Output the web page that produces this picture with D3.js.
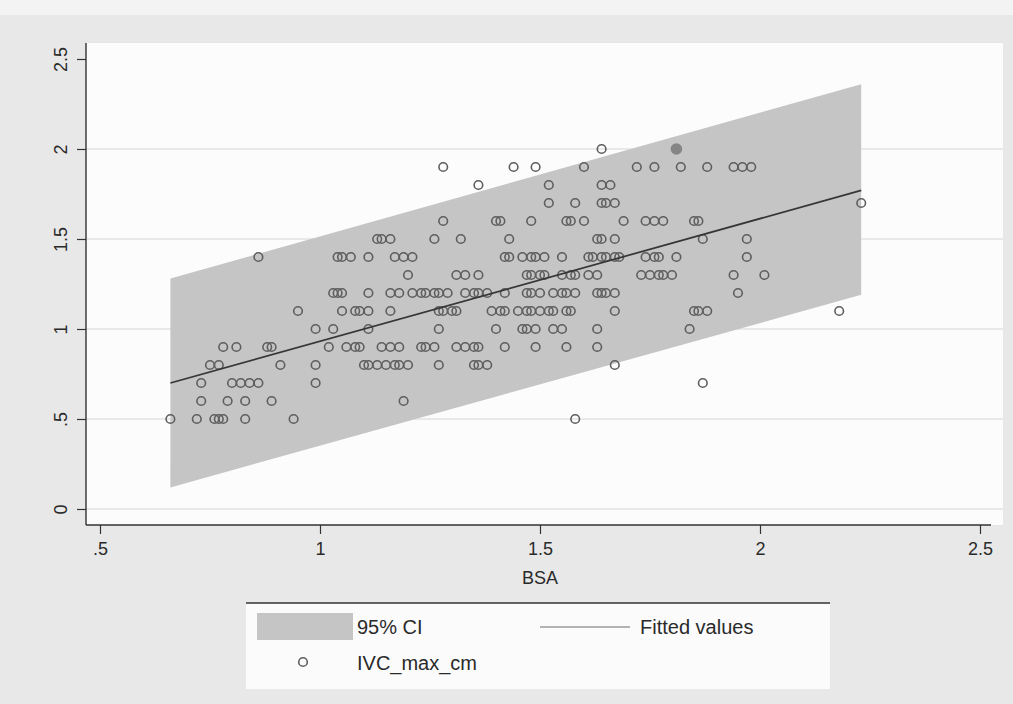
<!DOCTYPE html>
<html>
<head>
<meta charset="utf-8">
<script src="https://cdn.jsdelivr.net/npm/d3@7"></script>
<style>
	html, body { margin: 0; padding: 0; background: #e8e8e8; }
	svg { display: block; font-family: "Liberation Sans", Arial, sans-serif; }
</style>
</head>
<body>
<svg id="view" width="1013" height="704"></svg>
<script>
'use strict';

// data: IVC_max_cm levels and the BSA of each point on that level
const ivcLevels = [2.0, 1.9, 1.8, 1.7, 1.6, 1.5, 1.4, 1.3, 1.2, 1.1, 1.0, 0.9, 0.8, 0.7, 0.6, 0.5];
const bsaByLevel = [
	[1.64],
	[1.28, 1.44, 1.49, 1.60, 1.72, 1.76, 1.82, 1.88, 1.94, 1.96, 1.98],
	[1.36, 1.52, 1.64, 1.66],
	[1.52, 1.58, 1.64, 1.65, 1.67, 2.23],
	[1.28, 1.40, 1.41, 1.48, 1.56, 1.57, 1.60, 1.69, 1.74, 1.76, 1.78, 1.85, 1.86],
	[1.13, 1.14, 1.16, 1.26, 1.32, 1.43, 1.63, 1.64, 1.67, 1.87, 1.97],
	[0.86, 1.04, 1.05, 1.07, 1.11, 1.17, 1.19, 1.21, 1.42, 1.43, 1.46, 1.48, 1.49, 1.51, 1.55,
		1.61, 1.62, 1.64, 1.65, 1.67, 1.68, 1.74, 1.76, 1.77, 1.81, 1.97],
	[1.20, 1.31, 1.33, 1.36, 1.47, 1.48, 1.50, 1.51, 1.55, 1.57, 1.58, 1.61, 1.63, 1.73, 1.75,
		1.77, 1.78, 1.80, 1.94, 2.01],
	[1.03, 1.04, 1.05, 1.11, 1.16, 1.18, 1.21, 1.23, 1.24, 1.26, 1.27, 1.29, 1.33, 1.35, 1.36,
		1.38, 1.42, 1.47, 1.48, 1.50, 1.53, 1.55, 1.56, 1.58, 1.63, 1.64, 1.65, 1.67, 1.95],
	[0.95, 1.05, 1.08, 1.09, 1.11, 1.16, 1.27, 1.28, 1.30, 1.31, 1.39, 1.41, 1.42, 1.45, 1.47,
		1.48, 1.50, 1.52, 1.53, 1.56, 1.57, 1.67, 1.85, 1.86, 1.88, 2.18],
	[0.99, 1.03, 1.11, 1.27, 1.40, 1.46, 1.47, 1.49, 1.53, 1.55, 1.63, 1.84],
	[0.78, 0.81, 0.88, 0.89, 1.02, 1.06, 1.08, 1.09, 1.14, 1.16, 1.18, 1.23, 1.24, 1.26, 1.31,
		1.33, 1.35, 1.36, 1.42, 1.49, 1.56, 1.63],
	[0.75, 0.77, 0.91, 0.99, 1.10, 1.11, 1.13, 1.15, 1.17, 1.18, 1.20, 1.27, 1.35, 1.36, 1.38, 1.67],
	[0.73, 0.80, 0.82, 0.84, 0.86, 0.99, 1.87],
	[0.73, 0.79, 0.83, 0.89, 1.19],
	[0.66, 0.72, 0.76, 0.77, 0.78, 0.83, 0.94, 1.58]
];
const solidPoints = [[1.81, 2.0]];

// 95% CI band and fitted values
const ciBsa = [0.66, 2.23];
const ciLower = [0.12, 1.19];
const ciUpper = [1.28, 2.36];
const fittedIvc = [0.70, 1.77];

const xTicks = [0.5, 1, 1.5, 2, 2.5];
const yTicks = [0, 0.5, 1, 1.5, 2, 2.5];
const xTitle = "BSA";
const legendLabels = ["95% CI", "Fitted values", "IVC_max_cm"];

const tickFormat = d => (d > 0 && d < 1) ? String(d).slice(1) : String(d);

const svg = d3.select("#view");

const x = d3.scaleLinear().domain([0.5, 2.5]).range([100, 980]);
const y = d3.scaleLinear().domain([0, 2.5]).range([509, 59]);

const plot = {left: 86, right: 1003, top: 43, bottom: 525};

const drawMarker = sel => sel
	.attr("r", 4.3)
	.attr("fill", "none")
	.attr("stroke", "#5e5e5e")
	.attr("stroke-width", 1.6);

// background
svg.append("rect").attr("width", 1013).attr("height", 704).attr("fill", "#e8e8e8");
svg.append("rect").attr("width", 1013).attr("height", 15).attr("fill", "#f3f3f3");
svg.append("rect")
	.attr("x", plot.left).attr("y", plot.top)
	.attr("width", plot.right - plot.left).attr("height", plot.bottom - plot.top)
	.attr("fill", "#fcfcfc");

// grid
svg.append("g").selectAll("line")
	.data(yTicks.filter(d => d < 2.5))
	.join("line")
	.attr("x1", plot.left).attr("x2", plot.right)
	.attr("y1", d => y(d)).attr("y2", d => y(d))
	.attr("stroke", "#e3e3e3").attr("stroke-width", 1.5);

// CI band
const band = ciBsa.map((b, i) => ({bsa: b, lo: ciLower[i], hi: ciUpper[i], fit: fittedIvc[i]}));

svg.append("path")
	.datum(band)
	.attr("fill", "#c5c5c5")
	.attr("d", d3.area().x(d => x(d.bsa)).y0(d => y(d.lo)).y1(d => y(d.hi)));

// points
const points = ivcLevels.flatMap((v, i) => bsaByLevel[i].map(b => ({bsa: b, ivc: v})));

svg.append("g").selectAll("circle")
	.data(points)
	.join("circle")
	.attr("cx", d => x(d.bsa)).attr("cy", d => y(d.ivc))
	.call(drawMarker);

svg.append("g").selectAll("circle")
	.data(solidPoints)
	.join("circle")
	.attr("cx", d => x(d[0])).attr("cy", d => y(d[1]))
	.attr("r", 5.8)
	.attr("fill", "#858585");

// fitted line
svg.append("path")
	.datum(band)
	.attr("fill", "none")
	.attr("stroke", "#363636")
	.attr("stroke-width", 1.7)
	.attr("d", d3.line().x(d => x(d.bsa)).y(d => y(d.fit)));

// axes
const xAxis = svg.append("g")
	.attr("transform", `translate(0,${plot.bottom})`)
	.call(d3.axisBottom(x).tickValues(xTicks).tickFormat(tickFormat).tickSize(9).tickPadding(8));
xAxis.select(".domain").attr("d", `M${plot.left},0H${plot.right - 12}`);

const yAxis = svg.append("g")
	.attr("transform", `translate(${plot.left},0)`)
	.call(d3.axisLeft(y).tickValues(yTicks).tickFormat(tickFormat).tickSize(9).tickPadding(4));
yAxis.select(".domain").attr("d", `M0,${plot.top}V${plot.bottom}`);

[xAxis, yAxis].forEach(g => {
	g.select(".domain").attr("stroke", "#333").attr("stroke-width", 1.4);
	g.selectAll(".tick line").attr("stroke", "#333").attr("stroke-width", 1.2);
	g.selectAll(".tick text").attr("fill", "#2a2a2a").style("font-size", "18px")
		.style("font-family", "'Liberation Sans', Arial, sans-serif");
});

yAxis.selectAll(".tick text")
	.attr("x", null).attr("dy", null)
	.attr("text-anchor", "middle")
	.attr("transform", "translate(-19,0) rotate(-90)");

svg.append("text")
	.attr("x", 540).attr("y", 584)
	.attr("text-anchor", "middle")
	.attr("fill", "#2a2a2a")
	.style("font-size", "18px")
	.text(xTitle);

// legend
const legend = svg.append("g");
legend.append("rect")
	.attr("x", 246).attr("y", 603).attr("width", 584).attr("height", 86)
	.attr("fill", "#fbfbfb");
legend.append("line")
	.attr("x1", 246).attr("x2", 830).attr("y1", 603).attr("y2", 603)
	.attr("stroke", "#333").attr("stroke-width", 1.4);
legend.append("rect")
	.attr("x", 257).attr("y", 613).attr("width", 96).attr("height", 27)
	.attr("fill", "#c5c5c5");
legend.append("line")
	.attr("x1", 540).attr("x2", 630).attr("y1", 627).attr("y2", 627)
	.attr("stroke", "#6a6a6a").attr("stroke-width", 1.2);
legend.append("circle")
	.attr("cx", 303).attr("cy", 662)
	.call(drawMarker);
legend.selectAll("text")
	.data(legendLabels)
	.join("text")
	.attr("x", (d, i) => i === 1 ? 640 : 357)
	.attr("y", (d, i) => i === 2 ? 670 : 634)
	.attr("fill", "#2a2a2a")
	.style("font-size", "20px")
	.text(d => d);
</script>
</body>
</html>
